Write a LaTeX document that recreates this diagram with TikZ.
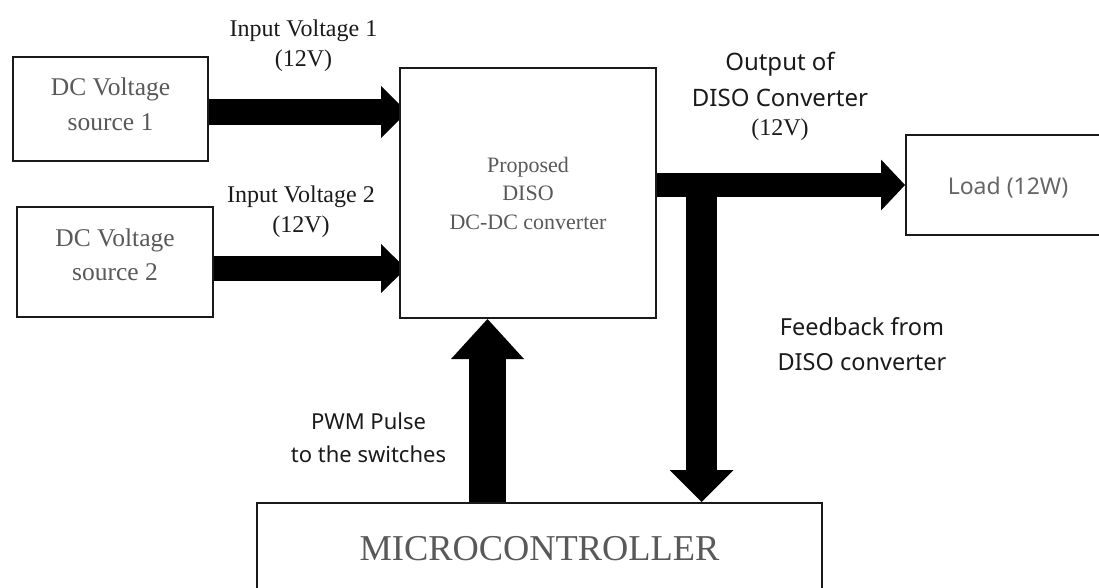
\documentclass[tikz,border=0pt]{standalone}
\usepackage{fontspec}
\setmainfont{Liberation Serif}
\newfontfamily\sansf{Noto Sans}
\usetikzlibrary{arrows.meta}
\pgfdeclarelayer{bg}
\pgfsetlayers{bg,main}
\definecolor{boxline}{HTML}{1A1A1A}
\definecolor{boxtext}{HTML}{595959}
\definecolor{loadtext}{HTML}{666666}
\definecolor{labeltext}{HTML}{1A1A1A}
\begin{document}
\begin{tikzpicture}[x=1pt,y=-1pt,
  box/.style={draw=boxline, line width=2pt, fill=white, inner sep=0pt, align=center, text=boxtext},
  lbl/.style={inner sep=0pt, align=center, text=labeltext},
  fat/.style n args={3}{line width=#1pt, -{Triangle[width=#2pt,length=#3pt,line width=0pt]}},
]
\useasboundingbox (0,0) rectangle (1099,587);
\clip (0,0) rectangle (1099,587);

% boxes
\node[box, minimum width=195pt, minimum height=104pt, font=\fontsize{25.5}{35}\selectfont]
  (s1) at (110.5,109) {DC Voltage\\source 1\rule[-10.3pt]{0pt}{10.3pt}};
\node[box, minimum width=196pt, minimum height=110pt, font=\fontsize{25.5}{34}\selectfont]
  (s2) at (115,262) {DC Voltage\\source 2\rule[-15.3pt]{0pt}{15.3pt}};
\node[box, minimum width=256pt, minimum height=250pt, font=\fontsize{22}{28.5}\selectfont]
  (main) at (528,193) {Proposed\\DISO\\DC-DC converter};
\node[box, minimum width=204pt, minimum height=100pt, text=loadtext, font=\sansf\fontsize{23}{28}\selectfont]
  (load) at (1008,185) {\rule{0pt}{22pt}Load (12W)};
\node[box, minimum width=565pt, minimum height=92pt, font=\fontsize{36.4}{40}\selectfont]
  (mcu) at (539.5,549) {MICROCONTROLLER};

% labels
\node[lbl, font=\fontsize{24}{30}\selectfont] (in1) at (303.5,45.5) {Input Voltage 1\\(12V)};
\node[lbl, font=\fontsize{24}{30}\selectfont] (in2) at (301,211.5) {Input Voltage 2\\(12V)};
\node[lbl, font=\sansf\fontsize{24}{36}\selectfont] (outl) at (780,79.9) {Output of\\DISO Converter};
\node[lbl, anchor=base, font=\fontsize{24}{30}\selectfont] (outv) at (780,135) {(12V)};
\node[lbl, font=\sansf\fontsize{23.5}{35}\selectfont] (fbl) at (862,344.6) {Feedback from\\DISO converter};
\node[lbl, font=\sansf\fontsize{22}{33}\selectfont] (pwml) at (368.5,438.2) {PWM Pulse\\to the switches};

\coordinate (fb) at (701.5,185);
\coordinate (pwm) at (487.5,507);

\begin{pgfonlayer}{bg}
\draw[fat={26}{52}{26}, shorten >=-8pt] ([yshift=-3pt]s1.east) -- ([yshift=-3pt]s1.east -| main.west);
\draw[fat={25}{49}{25}, shorten >=-7pt] ([yshift=-6.5pt]s2.east) -- ([yshift=-6.5pt]s2.east -| main.west);
\draw[fat={24}{51}{24}] (main.east |- load.west) -- (load.west);
\draw[fat={31}{64}{32}] (fb) -- (fb |- mcu.north);
\draw[fat={37}{73}{40}] (pwm) -- (pwm |- main.south);
\end{pgfonlayer}
\end{tikzpicture}
\end{document}
